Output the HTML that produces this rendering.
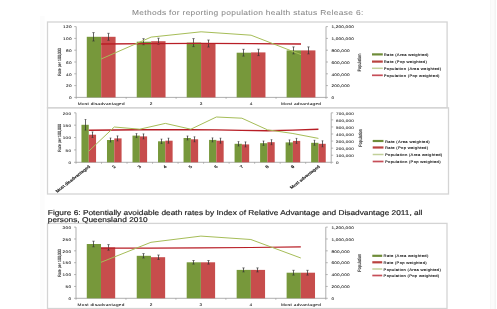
<!DOCTYPE html>
<html><head><meta charset="utf-8"><style>
html,body{margin:0;padding:0;background:#fff;width:497px;height:309px;overflow:hidden}
svg{display:block}
#w{will-change:transform;width:497px;height:309px}
text{font-family:"Liberation Sans",sans-serif;text-rendering:geometricPrecision}
</style></head><body>
<div id="w"><svg width="497" height="309" viewBox="0 0 497 309">
<rect x="0" y="0" width="497" height="309" fill="#fff"/>
<rect x="490.00" y="0.00" width="5.00" height="309.00" fill="#fbfbfb" />
<line x1="490.60" y1="0.00" x2="490.60" y2="309.00" stroke="#f5f5f5" stroke-width="0.8" />
<line x1="495.20" y1="0.00" x2="495.20" y2="309.00" stroke="#f0f0f0" stroke-width="1.2" />
<rect x="40.00" y="16.00" width="4.60" height="293.00" fill="#fcfcfc" />
<text transform="translate(132.00,15.20) scale(1,0.85)" font-size="8.4" text-anchor="start" fill="#888888" font-weight="normal" stroke="#888888" stroke-width="0.06" letter-spacing="0.33">Methods for reporting population health status Release 6:</text>
<rect x="47.5" y="22" width="399.6" height="85.8" fill="none" stroke="#d4d4d4" stroke-width="1.3"/>
<line x1="76.20" y1="26.60" x2="76.20" y2="97.40" stroke="#8c8c8c" stroke-width="0.7" />
<line x1="326.00" y1="26.60" x2="326.00" y2="97.40" stroke="#8c8c8c" stroke-width="0.7" />
<line x1="76.20" y1="97.40" x2="326.00" y2="97.40" stroke="#8c8c8c" stroke-width="0.7" />
<line x1="74.20" y1="97.40" x2="76.20" y2="97.40" stroke="#8c8c8c" stroke-width="0.6" />
<text transform="translate(71.78,99.10) scale(1.0,0.8)" font-size="4.7" text-anchor="end" fill="#222" font-weight="normal" stroke="#222" stroke-width="0.08" letter-spacing="0.28">0</text>
<line x1="74.20" y1="85.60" x2="76.20" y2="85.60" stroke="#8c8c8c" stroke-width="0.6" />
<text transform="translate(71.78,87.30) scale(1.0,0.8)" font-size="4.7" text-anchor="end" fill="#222" font-weight="normal" stroke="#222" stroke-width="0.08" letter-spacing="0.28">20</text>
<line x1="74.20" y1="73.80" x2="76.20" y2="73.80" stroke="#8c8c8c" stroke-width="0.6" />
<text transform="translate(71.78,75.50) scale(1.0,0.8)" font-size="4.7" text-anchor="end" fill="#222" font-weight="normal" stroke="#222" stroke-width="0.08" letter-spacing="0.28">40</text>
<line x1="74.20" y1="62.00" x2="76.20" y2="62.00" stroke="#8c8c8c" stroke-width="0.6" />
<text transform="translate(71.78,63.70) scale(1.0,0.8)" font-size="4.7" text-anchor="end" fill="#222" font-weight="normal" stroke="#222" stroke-width="0.08" letter-spacing="0.28">60</text>
<line x1="74.20" y1="50.20" x2="76.20" y2="50.20" stroke="#8c8c8c" stroke-width="0.6" />
<text transform="translate(71.78,51.90) scale(1.0,0.8)" font-size="4.7" text-anchor="end" fill="#222" font-weight="normal" stroke="#222" stroke-width="0.08" letter-spacing="0.28">80</text>
<line x1="74.20" y1="38.40" x2="76.20" y2="38.40" stroke="#8c8c8c" stroke-width="0.6" />
<text transform="translate(71.78,40.10) scale(1.0,0.8)" font-size="4.7" text-anchor="end" fill="#222" font-weight="normal" stroke="#222" stroke-width="0.08" letter-spacing="0.28">100</text>
<line x1="74.20" y1="26.60" x2="76.20" y2="26.60" stroke="#8c8c8c" stroke-width="0.6" />
<text transform="translate(71.78,28.30) scale(1.0,0.8)" font-size="4.7" text-anchor="end" fill="#222" font-weight="normal" stroke="#222" stroke-width="0.08" letter-spacing="0.28">120</text>
<line x1="326.00" y1="97.40" x2="328.00" y2="97.40" stroke="#8c8c8c" stroke-width="0.6" />
<text transform="translate(331.50,99.10) scale(1.0,0.8)" font-size="4.7" text-anchor="start" fill="#222" font-weight="normal" stroke="#222" stroke-width="0.08" letter-spacing="0.18">0</text>
<line x1="326.00" y1="85.60" x2="328.00" y2="85.60" stroke="#8c8c8c" stroke-width="0.6" />
<text transform="translate(331.50,87.30) scale(1.0,0.8)" font-size="4.7" text-anchor="start" fill="#222" font-weight="normal" stroke="#222" stroke-width="0.08" letter-spacing="0.18">200,000</text>
<line x1="326.00" y1="73.80" x2="328.00" y2="73.80" stroke="#8c8c8c" stroke-width="0.6" />
<text transform="translate(331.50,75.50) scale(1.0,0.8)" font-size="4.7" text-anchor="start" fill="#222" font-weight="normal" stroke="#222" stroke-width="0.08" letter-spacing="0.18">400,000</text>
<line x1="326.00" y1="62.00" x2="328.00" y2="62.00" stroke="#8c8c8c" stroke-width="0.6" />
<text transform="translate(331.50,63.70) scale(1.0,0.8)" font-size="4.7" text-anchor="start" fill="#222" font-weight="normal" stroke="#222" stroke-width="0.08" letter-spacing="0.18">600,000</text>
<line x1="326.00" y1="50.20" x2="328.00" y2="50.20" stroke="#8c8c8c" stroke-width="0.6" />
<text transform="translate(331.50,51.90) scale(1.0,0.8)" font-size="4.7" text-anchor="start" fill="#222" font-weight="normal" stroke="#222" stroke-width="0.08" letter-spacing="0.18">800,000</text>
<line x1="326.00" y1="38.40" x2="328.00" y2="38.40" stroke="#8c8c8c" stroke-width="0.6" />
<text transform="translate(331.50,40.10) scale(1.0,0.8)" font-size="4.7" text-anchor="start" fill="#222" font-weight="normal" stroke="#222" stroke-width="0.08" letter-spacing="0.18">1,000,000</text>
<line x1="326.00" y1="26.60" x2="328.00" y2="26.60" stroke="#8c8c8c" stroke-width="0.6" />
<text transform="translate(331.50,28.30) scale(1.0,0.8)" font-size="4.7" text-anchor="start" fill="#222" font-weight="normal" stroke="#222" stroke-width="0.08" letter-spacing="0.18">1,200,000</text>
<line x1="76.20" y1="97.40" x2="76.20" y2="98.90" stroke="#8c8c8c" stroke-width="0.6" />
<line x1="126.16" y1="97.40" x2="126.16" y2="98.90" stroke="#8c8c8c" stroke-width="0.6" />
<line x1="176.12" y1="97.40" x2="176.12" y2="98.90" stroke="#8c8c8c" stroke-width="0.6" />
<line x1="226.08" y1="97.40" x2="226.08" y2="98.90" stroke="#8c8c8c" stroke-width="0.6" />
<line x1="276.04" y1="97.40" x2="276.04" y2="98.90" stroke="#8c8c8c" stroke-width="0.6" />
<line x1="326.00" y1="97.40" x2="326.00" y2="98.90" stroke="#8c8c8c" stroke-width="0.6" />
<rect x="86.78" y="36.80" width="14.40" height="60.60" fill="#77983b" />
<rect x="101.18" y="36.80" width="14.40" height="60.60" fill="#c74d4c" />
<line x1="93.50" y1="32.60" x2="93.50" y2="41.00" stroke="#333" stroke-width="0.75" />
<line x1="92.30" y1="32.60" x2="94.70" y2="32.60" stroke="#333" stroke-width="0.6" />
<line x1="92.30" y1="41.00" x2="94.70" y2="41.00" stroke="#333" stroke-width="0.6" />
<line x1="108.50" y1="33.30" x2="108.50" y2="40.30" stroke="#333" stroke-width="0.75" />
<line x1="107.30" y1="33.30" x2="109.70" y2="33.30" stroke="#333" stroke-width="0.6" />
<line x1="107.30" y1="40.30" x2="109.70" y2="40.30" stroke="#333" stroke-width="0.6" />
<rect x="136.74" y="41.70" width="14.40" height="55.70" fill="#77983b" />
<rect x="151.14" y="41.20" width="14.40" height="56.20" fill="#c74d4c" />
<line x1="143.50" y1="38.70" x2="143.50" y2="44.70" stroke="#333" stroke-width="0.75" />
<line x1="142.30" y1="38.70" x2="144.70" y2="38.70" stroke="#333" stroke-width="0.6" />
<line x1="142.30" y1="44.70" x2="144.70" y2="44.70" stroke="#333" stroke-width="0.6" />
<line x1="158.50" y1="38.20" x2="158.50" y2="44.20" stroke="#333" stroke-width="0.75" />
<line x1="157.30" y1="38.20" x2="159.70" y2="38.20" stroke="#333" stroke-width="0.6" />
<line x1="157.30" y1="44.20" x2="159.70" y2="44.20" stroke="#333" stroke-width="0.6" />
<rect x="186.70" y="42.60" width="14.40" height="54.80" fill="#77983b" />
<rect x="201.10" y="43.50" width="14.40" height="53.90" fill="#c74d4c" />
<line x1="193.50" y1="38.60" x2="193.50" y2="46.60" stroke="#333" stroke-width="0.75" />
<line x1="192.30" y1="38.60" x2="194.70" y2="38.60" stroke="#333" stroke-width="0.6" />
<line x1="192.30" y1="46.60" x2="194.70" y2="46.60" stroke="#333" stroke-width="0.6" />
<line x1="208.50" y1="40.00" x2="208.50" y2="47.00" stroke="#333" stroke-width="0.75" />
<line x1="207.30" y1="40.00" x2="209.70" y2="40.00" stroke="#333" stroke-width="0.6" />
<line x1="207.30" y1="47.00" x2="209.70" y2="47.00" stroke="#333" stroke-width="0.6" />
<rect x="236.66" y="52.70" width="14.40" height="44.70" fill="#77983b" />
<rect x="251.06" y="52.40" width="14.40" height="45.00" fill="#c74d4c" />
<line x1="243.50" y1="49.30" x2="243.50" y2="56.10" stroke="#333" stroke-width="0.75" />
<line x1="242.30" y1="49.30" x2="244.70" y2="49.30" stroke="#333" stroke-width="0.6" />
<line x1="242.30" y1="56.10" x2="244.70" y2="56.10" stroke="#333" stroke-width="0.6" />
<line x1="258.50" y1="49.20" x2="258.50" y2="55.60" stroke="#333" stroke-width="0.75" />
<line x1="257.30" y1="49.20" x2="259.70" y2="49.20" stroke="#333" stroke-width="0.6" />
<line x1="257.30" y1="55.60" x2="259.70" y2="55.60" stroke="#333" stroke-width="0.6" />
<rect x="286.62" y="50.40" width="14.40" height="47.00" fill="#77983b" />
<rect x="301.02" y="50.40" width="14.40" height="47.00" fill="#c74d4c" />
<line x1="293.50" y1="46.90" x2="293.50" y2="53.90" stroke="#333" stroke-width="0.75" />
<line x1="292.30" y1="46.90" x2="294.70" y2="46.90" stroke="#333" stroke-width="0.6" />
<line x1="292.30" y1="53.90" x2="294.70" y2="53.90" stroke="#333" stroke-width="0.6" />
<line x1="308.50" y1="46.90" x2="308.50" y2="53.90" stroke="#333" stroke-width="0.75" />
<line x1="307.30" y1="46.90" x2="309.70" y2="46.90" stroke="#333" stroke-width="0.6" />
<line x1="307.30" y1="53.90" x2="309.70" y2="53.90" stroke="#333" stroke-width="0.6" />
<polyline points="101.18,44.00 151.14,43.60 201.10,43.40 251.06,43.60 301.02,44.00" fill="none" stroke="#b81e26" stroke-width="1.45" stroke-linejoin="round"/>
<polyline points="101.18,59.00 151.14,37.10 201.10,31.80 251.06,35.20 301.02,54.60" fill="none" stroke="#a6bd58" stroke-width="1.0" stroke-linejoin="round"/>
<g transform="translate(59.20,62.00) scale(1,0.78) rotate(-90)"><text x="0" y="0" font-size="4.6" text-anchor="middle" fill="#2a2a2a" stroke="#2a2a2a" stroke-width="0.1" dominant-baseline="central">Rate per 100,000</text></g>
<g transform="translate(360.30,62.60) scale(1,0.78) rotate(-90)"><text x="0" y="0" font-size="4.8" text-anchor="middle" fill="#222" stroke="#222" stroke-width="0.12" dominant-baseline="central">Population</text></g>
<text transform="translate(101.32,104.80) scale(1.0,0.8)" font-size="4.7" text-anchor="middle" fill="#222" font-weight="normal" stroke="#222" stroke-width="0.08" letter-spacing="0.28">Most disadvantaged</text>
<text transform="translate(151.28,104.80) scale(1.0,0.8)" font-size="4.7" text-anchor="middle" fill="#222" font-weight="normal" stroke="#222" stroke-width="0.08" letter-spacing="0.28">2</text>
<text transform="translate(201.24,104.80) scale(1.0,0.8)" font-size="4.7" text-anchor="middle" fill="#222" font-weight="normal" stroke="#222" stroke-width="0.08" letter-spacing="0.28">3</text>
<text transform="translate(251.20,104.80) scale(1.0,0.8)" font-size="4.7" text-anchor="middle" fill="#222" font-weight="normal" stroke="#222" stroke-width="0.08" letter-spacing="0.28">4</text>
<text transform="translate(301.16,104.80) scale(1.0,0.8)" font-size="4.7" text-anchor="middle" fill="#222" font-weight="normal" stroke="#222" stroke-width="0.08" letter-spacing="0.28">Most advantaged</text>
<line x1="372.00" y1="54.40" x2="382.80" y2="54.40" stroke="#6e8c38" stroke-width="2.2" />
<text transform="translate(383.80,55.90) scale(1.0,0.85)" font-size="4.2" text-anchor="start" fill="#222" font-weight="normal" stroke="#222" stroke-width="0.14" letter-spacing="0.27">Rate (Area weighted)</text>
<line x1="372.00" y1="61.60" x2="382.80" y2="61.60" stroke="#b9423f" stroke-width="2.2" />
<text transform="translate(383.80,63.10) scale(1.0,0.85)" font-size="4.2" text-anchor="start" fill="#222" font-weight="normal" stroke="#222" stroke-width="0.14" letter-spacing="0.27">Rate (Pop weighted)</text>
<line x1="372.00" y1="68.30" x2="382.80" y2="68.30" stroke="#c2d09a" stroke-width="1.5" />
<text transform="translate(383.80,69.80) scale(1.0,0.85)" font-size="4.2" text-anchor="start" fill="#222" font-weight="normal" stroke="#222" stroke-width="0.14" letter-spacing="0.27">Population (Area weighted)</text>
<line x1="372.00" y1="75.30" x2="382.80" y2="75.30" stroke="#c64e58" stroke-width="1.7" />
<text transform="translate(383.80,76.80) scale(1.0,0.85)" font-size="4.2" text-anchor="start" fill="#222" font-weight="normal" stroke="#222" stroke-width="0.14" letter-spacing="0.27">Population (Pop weighted)</text>
<rect x="47.5" y="107.8" width="401.0" height="86.2" fill="none" stroke="#d4d4d4" stroke-width="1.3"/>
<line x1="76.00" y1="112.80" x2="76.00" y2="162.30" stroke="#8c8c8c" stroke-width="0.7" />
<line x1="331.20" y1="112.80" x2="331.20" y2="162.30" stroke="#8c8c8c" stroke-width="0.7" />
<line x1="76.00" y1="162.30" x2="331.20" y2="162.30" stroke="#8c8c8c" stroke-width="0.7" />
<line x1="74.00" y1="162.30" x2="76.00" y2="162.30" stroke="#8c8c8c" stroke-width="0.6" />
<text transform="translate(71.28,164.00) scale(1.0,0.8)" font-size="4.6" text-anchor="end" fill="#222" font-weight="normal" stroke="#222" stroke-width="0.08" letter-spacing="0.28">0</text>
<line x1="74.00" y1="149.93" x2="76.00" y2="149.93" stroke="#8c8c8c" stroke-width="0.6" />
<text transform="translate(71.28,151.62) scale(1.0,0.8)" font-size="4.6" text-anchor="end" fill="#222" font-weight="normal" stroke="#222" stroke-width="0.08" letter-spacing="0.28">50</text>
<line x1="74.00" y1="137.55" x2="76.00" y2="137.55" stroke="#8c8c8c" stroke-width="0.6" />
<text transform="translate(71.28,139.25) scale(1.0,0.8)" font-size="4.6" text-anchor="end" fill="#222" font-weight="normal" stroke="#222" stroke-width="0.08" letter-spacing="0.28">100</text>
<line x1="74.00" y1="125.17" x2="76.00" y2="125.17" stroke="#8c8c8c" stroke-width="0.6" />
<text transform="translate(71.28,126.88) scale(1.0,0.8)" font-size="4.6" text-anchor="end" fill="#222" font-weight="normal" stroke="#222" stroke-width="0.08" letter-spacing="0.28">150</text>
<line x1="74.00" y1="112.80" x2="76.00" y2="112.80" stroke="#8c8c8c" stroke-width="0.6" />
<text transform="translate(71.28,114.50) scale(1.0,0.8)" font-size="4.6" text-anchor="end" fill="#222" font-weight="normal" stroke="#222" stroke-width="0.08" letter-spacing="0.28">200</text>
<line x1="331.20" y1="162.30" x2="333.20" y2="162.30" stroke="#8c8c8c" stroke-width="0.6" />
<text transform="translate(336.00,164.00) scale(1.0,0.8)" font-size="4.6" text-anchor="start" fill="#222" font-weight="normal" stroke="#222" stroke-width="0.08" letter-spacing="0.18">0</text>
<line x1="331.20" y1="155.23" x2="333.20" y2="155.23" stroke="#8c8c8c" stroke-width="0.6" />
<text transform="translate(336.00,156.93) scale(1.0,0.8)" font-size="4.6" text-anchor="start" fill="#222" font-weight="normal" stroke="#222" stroke-width="0.08" letter-spacing="0.18">100,000</text>
<line x1="331.20" y1="148.16" x2="333.20" y2="148.16" stroke="#8c8c8c" stroke-width="0.6" />
<text transform="translate(336.00,149.86) scale(1.0,0.8)" font-size="4.6" text-anchor="start" fill="#222" font-weight="normal" stroke="#222" stroke-width="0.08" letter-spacing="0.18">200,000</text>
<line x1="331.20" y1="141.09" x2="333.20" y2="141.09" stroke="#8c8c8c" stroke-width="0.6" />
<text transform="translate(336.00,142.79) scale(1.0,0.8)" font-size="4.6" text-anchor="start" fill="#222" font-weight="normal" stroke="#222" stroke-width="0.08" letter-spacing="0.18">300,000</text>
<line x1="331.20" y1="134.01" x2="333.20" y2="134.01" stroke="#8c8c8c" stroke-width="0.6" />
<text transform="translate(336.00,135.71) scale(1.0,0.8)" font-size="4.6" text-anchor="start" fill="#222" font-weight="normal" stroke="#222" stroke-width="0.08" letter-spacing="0.18">400,000</text>
<line x1="331.20" y1="126.94" x2="333.20" y2="126.94" stroke="#8c8c8c" stroke-width="0.6" />
<text transform="translate(336.00,128.64) scale(1.0,0.8)" font-size="4.6" text-anchor="start" fill="#222" font-weight="normal" stroke="#222" stroke-width="0.08" letter-spacing="0.18">500,000</text>
<line x1="331.20" y1="119.87" x2="333.20" y2="119.87" stroke="#8c8c8c" stroke-width="0.6" />
<text transform="translate(336.00,121.57) scale(1.0,0.8)" font-size="4.6" text-anchor="start" fill="#222" font-weight="normal" stroke="#222" stroke-width="0.08" letter-spacing="0.18">600,000</text>
<line x1="331.20" y1="112.80" x2="333.20" y2="112.80" stroke="#8c8c8c" stroke-width="0.6" />
<text transform="translate(336.00,114.50) scale(1.0,0.8)" font-size="4.6" text-anchor="start" fill="#222" font-weight="normal" stroke="#222" stroke-width="0.08" letter-spacing="0.18">700,000</text>
<line x1="76.00" y1="162.30" x2="76.00" y2="163.80" stroke="#8c8c8c" stroke-width="0.6" />
<line x1="101.52" y1="162.30" x2="101.52" y2="163.80" stroke="#8c8c8c" stroke-width="0.6" />
<line x1="127.04" y1="162.30" x2="127.04" y2="163.80" stroke="#8c8c8c" stroke-width="0.6" />
<line x1="152.56" y1="162.30" x2="152.56" y2="163.80" stroke="#8c8c8c" stroke-width="0.6" />
<line x1="178.08" y1="162.30" x2="178.08" y2="163.80" stroke="#8c8c8c" stroke-width="0.6" />
<line x1="203.60" y1="162.30" x2="203.60" y2="163.80" stroke="#8c8c8c" stroke-width="0.6" />
<line x1="229.12" y1="162.30" x2="229.12" y2="163.80" stroke="#8c8c8c" stroke-width="0.6" />
<line x1="254.64" y1="162.30" x2="254.64" y2="163.80" stroke="#8c8c8c" stroke-width="0.6" />
<line x1="280.16" y1="162.30" x2="280.16" y2="163.80" stroke="#8c8c8c" stroke-width="0.6" />
<line x1="305.68" y1="162.30" x2="305.68" y2="163.80" stroke="#8c8c8c" stroke-width="0.6" />
<line x1="331.20" y1="162.30" x2="331.20" y2="163.80" stroke="#8c8c8c" stroke-width="0.6" />
<rect x="81.46" y="124.80" width="7.30" height="37.50" fill="#77983b" />
<rect x="88.76" y="134.70" width="7.30" height="27.60" fill="#c74d4c" />
<line x1="85.50" y1="119.50" x2="85.50" y2="130.10" stroke="#333" stroke-width="0.75" />
<line x1="84.60" y1="119.50" x2="86.40" y2="119.50" stroke="#333" stroke-width="0.6" />
<line x1="84.60" y1="130.10" x2="86.40" y2="130.10" stroke="#333" stroke-width="0.6" />
<line x1="92.50" y1="131.90" x2="92.50" y2="137.50" stroke="#333" stroke-width="0.75" />
<line x1="91.60" y1="131.90" x2="93.40" y2="131.90" stroke="#333" stroke-width="0.6" />
<line x1="91.60" y1="137.50" x2="93.40" y2="137.50" stroke="#333" stroke-width="0.6" />
<rect x="106.98" y="140.00" width="7.30" height="22.30" fill="#77983b" />
<rect x="114.28" y="138.40" width="7.30" height="23.90" fill="#c74d4c" />
<line x1="110.50" y1="138.00" x2="110.50" y2="142.00" stroke="#333" stroke-width="0.75" />
<line x1="109.60" y1="138.00" x2="111.40" y2="138.00" stroke="#333" stroke-width="0.6" />
<line x1="109.60" y1="142.00" x2="111.40" y2="142.00" stroke="#333" stroke-width="0.6" />
<line x1="117.50" y1="135.90" x2="117.50" y2="140.90" stroke="#333" stroke-width="0.75" />
<line x1="116.60" y1="135.90" x2="118.40" y2="135.90" stroke="#333" stroke-width="0.6" />
<line x1="116.60" y1="140.90" x2="118.40" y2="140.90" stroke="#333" stroke-width="0.6" />
<rect x="132.50" y="135.60" width="7.30" height="26.70" fill="#77983b" />
<rect x="139.80" y="136.40" width="7.30" height="25.90" fill="#c74d4c" />
<line x1="136.50" y1="133.60" x2="136.50" y2="137.60" stroke="#333" stroke-width="0.75" />
<line x1="135.60" y1="133.60" x2="137.40" y2="133.60" stroke="#333" stroke-width="0.6" />
<line x1="135.60" y1="137.60" x2="137.40" y2="137.60" stroke="#333" stroke-width="0.6" />
<line x1="143.50" y1="133.90" x2="143.50" y2="138.90" stroke="#333" stroke-width="0.75" />
<line x1="142.60" y1="133.90" x2="144.40" y2="133.90" stroke="#333" stroke-width="0.6" />
<line x1="142.60" y1="138.90" x2="144.40" y2="138.90" stroke="#333" stroke-width="0.6" />
<rect x="158.02" y="141.30" width="7.30" height="21.00" fill="#77983b" />
<rect x="165.32" y="140.70" width="7.30" height="21.60" fill="#c74d4c" />
<line x1="161.50" y1="139.10" x2="161.50" y2="143.50" stroke="#333" stroke-width="0.75" />
<line x1="160.60" y1="139.10" x2="162.40" y2="139.10" stroke="#333" stroke-width="0.6" />
<line x1="160.60" y1="143.50" x2="162.40" y2="143.50" stroke="#333" stroke-width="0.6" />
<line x1="168.50" y1="138.20" x2="168.50" y2="143.20" stroke="#333" stroke-width="0.75" />
<line x1="167.60" y1="138.20" x2="169.40" y2="138.20" stroke="#333" stroke-width="0.6" />
<line x1="167.60" y1="143.20" x2="169.40" y2="143.20" stroke="#333" stroke-width="0.6" />
<rect x="183.54" y="138.00" width="7.30" height="24.30" fill="#77983b" />
<rect x="190.84" y="139.30" width="7.30" height="23.00" fill="#c74d4c" />
<line x1="187.50" y1="136.00" x2="187.50" y2="140.00" stroke="#333" stroke-width="0.75" />
<line x1="186.60" y1="136.00" x2="188.40" y2="136.00" stroke="#333" stroke-width="0.6" />
<line x1="186.60" y1="140.00" x2="188.40" y2="140.00" stroke="#333" stroke-width="0.6" />
<line x1="194.50" y1="136.80" x2="194.50" y2="141.80" stroke="#333" stroke-width="0.75" />
<line x1="193.60" y1="136.80" x2="195.40" y2="136.80" stroke="#333" stroke-width="0.6" />
<line x1="193.60" y1="141.80" x2="195.40" y2="141.80" stroke="#333" stroke-width="0.6" />
<rect x="209.06" y="139.90" width="7.30" height="22.40" fill="#77983b" />
<rect x="216.36" y="140.70" width="7.30" height="21.60" fill="#c74d4c" />
<line x1="212.50" y1="137.90" x2="212.50" y2="141.90" stroke="#333" stroke-width="0.75" />
<line x1="211.60" y1="137.90" x2="213.40" y2="137.90" stroke="#333" stroke-width="0.6" />
<line x1="211.60" y1="141.90" x2="213.40" y2="141.90" stroke="#333" stroke-width="0.6" />
<line x1="220.50" y1="138.20" x2="220.50" y2="143.20" stroke="#333" stroke-width="0.75" />
<line x1="219.60" y1="138.20" x2="221.40" y2="138.20" stroke="#333" stroke-width="0.6" />
<line x1="219.60" y1="143.20" x2="221.40" y2="143.20" stroke="#333" stroke-width="0.6" />
<rect x="234.58" y="143.80" width="7.30" height="18.50" fill="#77983b" />
<rect x="241.88" y="144.40" width="7.30" height="17.90" fill="#c74d4c" />
<line x1="238.50" y1="141.60" x2="238.50" y2="146.00" stroke="#333" stroke-width="0.75" />
<line x1="237.60" y1="141.60" x2="239.40" y2="141.60" stroke="#333" stroke-width="0.6" />
<line x1="237.60" y1="146.00" x2="239.40" y2="146.00" stroke="#333" stroke-width="0.6" />
<line x1="245.50" y1="141.90" x2="245.50" y2="146.90" stroke="#333" stroke-width="0.75" />
<line x1="244.60" y1="141.90" x2="246.40" y2="141.90" stroke="#333" stroke-width="0.6" />
<line x1="244.60" y1="146.90" x2="246.40" y2="146.90" stroke="#333" stroke-width="0.6" />
<rect x="260.10" y="143.20" width="7.30" height="19.10" fill="#77983b" />
<rect x="267.40" y="142.20" width="7.30" height="20.10" fill="#c74d4c" />
<line x1="263.50" y1="141.00" x2="263.50" y2="145.40" stroke="#333" stroke-width="0.75" />
<line x1="262.60" y1="141.00" x2="264.40" y2="141.00" stroke="#333" stroke-width="0.6" />
<line x1="262.60" y1="145.40" x2="264.40" y2="145.40" stroke="#333" stroke-width="0.6" />
<line x1="271.50" y1="139.70" x2="271.50" y2="144.70" stroke="#333" stroke-width="0.75" />
<line x1="270.60" y1="139.70" x2="272.40" y2="139.70" stroke="#333" stroke-width="0.6" />
<line x1="270.60" y1="144.70" x2="272.40" y2="144.70" stroke="#333" stroke-width="0.6" />
<rect x="285.62" y="142.40" width="7.30" height="19.90" fill="#77983b" />
<rect x="292.92" y="140.90" width="7.30" height="21.40" fill="#c74d4c" />
<line x1="289.50" y1="139.90" x2="289.50" y2="144.90" stroke="#333" stroke-width="0.75" />
<line x1="288.60" y1="139.90" x2="290.40" y2="139.90" stroke="#333" stroke-width="0.6" />
<line x1="288.60" y1="144.90" x2="290.40" y2="144.90" stroke="#333" stroke-width="0.6" />
<line x1="296.50" y1="138.40" x2="296.50" y2="143.40" stroke="#333" stroke-width="0.75" />
<line x1="295.60" y1="138.40" x2="297.40" y2="138.40" stroke="#333" stroke-width="0.6" />
<line x1="295.60" y1="143.40" x2="297.40" y2="143.40" stroke="#333" stroke-width="0.6" />
<rect x="311.14" y="142.80" width="7.30" height="19.50" fill="#77983b" />
<rect x="318.44" y="143.80" width="7.30" height="18.50" fill="#c74d4c" />
<line x1="314.50" y1="140.30" x2="314.50" y2="145.30" stroke="#333" stroke-width="0.75" />
<line x1="313.60" y1="140.30" x2="315.40" y2="140.30" stroke="#333" stroke-width="0.6" />
<line x1="313.60" y1="145.30" x2="315.40" y2="145.30" stroke="#333" stroke-width="0.6" />
<line x1="322.50" y1="140.80" x2="322.50" y2="146.80" stroke="#333" stroke-width="0.75" />
<line x1="321.60" y1="140.80" x2="323.40" y2="140.80" stroke="#333" stroke-width="0.6" />
<line x1="321.60" y1="146.80" x2="323.40" y2="146.80" stroke="#333" stroke-width="0.6" />
<polyline points="88.76,130.20 114.28,130.00 139.80,129.80 165.32,129.70 190.84,129.70 216.36,129.90 241.88,130.40 267.40,130.80 292.92,130.10 318.44,129.20" fill="none" stroke="#b81e26" stroke-width="1.4" stroke-linejoin="round"/>
<polyline points="88.76,151.20 114.28,127.00 139.80,129.20 165.32,123.40 190.84,129.20 216.36,117.00 241.88,118.20 267.40,129.80 292.92,133.50 318.44,138.40" fill="none" stroke="#a6bd58" stroke-width="1.0" stroke-linejoin="round"/>
<g transform="translate(59.00,137.80) scale(1,0.78) rotate(-90)"><text x="0" y="0" font-size="4.6" text-anchor="middle" fill="#2a2a2a" stroke="#2a2a2a" stroke-width="0.1" dominant-baseline="central">Rate per 100,000</text></g>
<g transform="translate(361.40,137.90) scale(1,0.78) rotate(-90)"><text x="0" y="0" font-size="4.8" text-anchor="middle" fill="#222" stroke="#222" stroke-width="0.12" dominant-baseline="central">Population</text></g>
<g transform="translate(89.46,166.00) scale(1,0.78) rotate(-45) scale(1.14,1.05)"><text x="0" y="0" font-size="4.6" text-anchor="end" fill="#222" stroke="#222" stroke-width="0.2" dominant-baseline="central">Most disadvantaged</text></g>
<g transform="translate(114.98,166.00) scale(1,0.78) rotate(-45) scale(1.14,1.05)"><text x="0" y="0" font-size="4.6" text-anchor="end" fill="#222" stroke="#222" stroke-width="0.2" dominant-baseline="central">2</text></g>
<g transform="translate(140.50,166.00) scale(1,0.78) rotate(-45) scale(1.14,1.05)"><text x="0" y="0" font-size="4.6" text-anchor="end" fill="#222" stroke="#222" stroke-width="0.2" dominant-baseline="central">3</text></g>
<g transform="translate(166.02,166.00) scale(1,0.78) rotate(-45) scale(1.14,1.05)"><text x="0" y="0" font-size="4.6" text-anchor="end" fill="#222" stroke="#222" stroke-width="0.2" dominant-baseline="central">4</text></g>
<g transform="translate(191.54,166.00) scale(1,0.78) rotate(-45) scale(1.14,1.05)"><text x="0" y="0" font-size="4.6" text-anchor="end" fill="#222" stroke="#222" stroke-width="0.2" dominant-baseline="central">5</text></g>
<g transform="translate(217.06,166.00) scale(1,0.78) rotate(-45) scale(1.14,1.05)"><text x="0" y="0" font-size="4.6" text-anchor="end" fill="#222" stroke="#222" stroke-width="0.2" dominant-baseline="central">6</text></g>
<g transform="translate(242.58,166.00) scale(1,0.78) rotate(-45) scale(1.14,1.05)"><text x="0" y="0" font-size="4.6" text-anchor="end" fill="#222" stroke="#222" stroke-width="0.2" dominant-baseline="central">7</text></g>
<g transform="translate(268.10,166.00) scale(1,0.78) rotate(-45) scale(1.14,1.05)"><text x="0" y="0" font-size="4.6" text-anchor="end" fill="#222" stroke="#222" stroke-width="0.2" dominant-baseline="central">8</text></g>
<g transform="translate(293.62,166.00) scale(1,0.78) rotate(-45) scale(1.14,1.05)"><text x="0" y="0" font-size="4.6" text-anchor="end" fill="#222" stroke="#222" stroke-width="0.2" dominant-baseline="central">9</text></g>
<g transform="translate(319.14,166.00) scale(1,0.78) rotate(-45) scale(1.14,1.05)"><text x="0" y="0" font-size="4.6" text-anchor="end" fill="#222" stroke="#222" stroke-width="0.2" dominant-baseline="central">Most advantaged</text></g>
<line x1="372.70" y1="141.00" x2="383.50" y2="141.00" stroke="#6e8c38" stroke-width="2.2" />
<text transform="translate(385.00,142.50) scale(1.0,0.85)" font-size="4.2" text-anchor="start" fill="#222" font-weight="normal" stroke="#222" stroke-width="0.14" letter-spacing="0.27">Rate (Area weighted)</text>
<line x1="372.70" y1="147.50" x2="383.50" y2="147.50" stroke="#b9423f" stroke-width="2.2" />
<text transform="translate(385.00,149.00) scale(1.0,0.85)" font-size="4.2" text-anchor="start" fill="#222" font-weight="normal" stroke="#222" stroke-width="0.14" letter-spacing="0.27">Rate (Pop weighted)</text>
<line x1="372.70" y1="154.50" x2="383.50" y2="154.50" stroke="#c2d09a" stroke-width="1.5" />
<text transform="translate(385.00,156.00) scale(1.0,0.85)" font-size="4.2" text-anchor="start" fill="#222" font-weight="normal" stroke="#222" stroke-width="0.14" letter-spacing="0.27">Population (Area weighted)</text>
<line x1="372.70" y1="161.50" x2="383.50" y2="161.50" stroke="#c64e58" stroke-width="1.7" />
<text transform="translate(385.00,163.00) scale(1.0,0.85)" font-size="4.2" text-anchor="start" fill="#222" font-weight="normal" stroke="#222" stroke-width="0.14" letter-spacing="0.27">Population (Pop weighted)</text>
<rect x="47.5" y="223.4" width="399.5" height="85.1" fill="none" stroke="#d4d4d4" stroke-width="1.3"/>
<line x1="76.00" y1="227.10" x2="76.00" y2="298.30" stroke="#8c8c8c" stroke-width="0.7" />
<line x1="325.80" y1="227.10" x2="325.80" y2="298.30" stroke="#8c8c8c" stroke-width="0.7" />
<line x1="76.00" y1="298.30" x2="325.80" y2="298.30" stroke="#8c8c8c" stroke-width="0.7" />
<line x1="74.00" y1="298.30" x2="76.00" y2="298.30" stroke="#8c8c8c" stroke-width="0.6" />
<text transform="translate(71.28,300.00) scale(1.0,0.8)" font-size="4.7" text-anchor="end" fill="#222" font-weight="normal" stroke="#222" stroke-width="0.08" letter-spacing="0.28">0</text>
<line x1="74.00" y1="286.43" x2="76.00" y2="286.43" stroke="#8c8c8c" stroke-width="0.6" />
<text transform="translate(71.28,288.13) scale(1.0,0.8)" font-size="4.7" text-anchor="end" fill="#222" font-weight="normal" stroke="#222" stroke-width="0.08" letter-spacing="0.28">50</text>
<line x1="74.00" y1="274.57" x2="76.00" y2="274.57" stroke="#8c8c8c" stroke-width="0.6" />
<text transform="translate(71.28,276.27) scale(1.0,0.8)" font-size="4.7" text-anchor="end" fill="#222" font-weight="normal" stroke="#222" stroke-width="0.08" letter-spacing="0.28">100</text>
<line x1="74.00" y1="262.70" x2="76.00" y2="262.70" stroke="#8c8c8c" stroke-width="0.6" />
<text transform="translate(71.28,264.40) scale(1.0,0.8)" font-size="4.7" text-anchor="end" fill="#222" font-weight="normal" stroke="#222" stroke-width="0.08" letter-spacing="0.28">150</text>
<line x1="74.00" y1="250.83" x2="76.00" y2="250.83" stroke="#8c8c8c" stroke-width="0.6" />
<text transform="translate(71.28,252.53) scale(1.0,0.8)" font-size="4.7" text-anchor="end" fill="#222" font-weight="normal" stroke="#222" stroke-width="0.08" letter-spacing="0.28">200</text>
<line x1="74.00" y1="238.97" x2="76.00" y2="238.97" stroke="#8c8c8c" stroke-width="0.6" />
<text transform="translate(71.28,240.67) scale(1.0,0.8)" font-size="4.7" text-anchor="end" fill="#222" font-weight="normal" stroke="#222" stroke-width="0.08" letter-spacing="0.28">250</text>
<line x1="74.00" y1="227.10" x2="76.00" y2="227.10" stroke="#8c8c8c" stroke-width="0.6" />
<text transform="translate(71.28,228.80) scale(1.0,0.8)" font-size="4.7" text-anchor="end" fill="#222" font-weight="normal" stroke="#222" stroke-width="0.08" letter-spacing="0.28">300</text>
<line x1="325.80" y1="298.30" x2="327.80" y2="298.30" stroke="#8c8c8c" stroke-width="0.6" />
<text transform="translate(331.50,300.00) scale(1.0,0.8)" font-size="4.7" text-anchor="start" fill="#222" font-weight="normal" stroke="#222" stroke-width="0.08" letter-spacing="0.18">0</text>
<line x1="325.80" y1="286.43" x2="327.80" y2="286.43" stroke="#8c8c8c" stroke-width="0.6" />
<text transform="translate(331.50,288.13) scale(1.0,0.8)" font-size="4.7" text-anchor="start" fill="#222" font-weight="normal" stroke="#222" stroke-width="0.08" letter-spacing="0.18">200,000</text>
<line x1="325.80" y1="274.57" x2="327.80" y2="274.57" stroke="#8c8c8c" stroke-width="0.6" />
<text transform="translate(331.50,276.27) scale(1.0,0.8)" font-size="4.7" text-anchor="start" fill="#222" font-weight="normal" stroke="#222" stroke-width="0.08" letter-spacing="0.18">400,000</text>
<line x1="325.80" y1="262.70" x2="327.80" y2="262.70" stroke="#8c8c8c" stroke-width="0.6" />
<text transform="translate(331.50,264.40) scale(1.0,0.8)" font-size="4.7" text-anchor="start" fill="#222" font-weight="normal" stroke="#222" stroke-width="0.08" letter-spacing="0.18">600,000</text>
<line x1="325.80" y1="250.83" x2="327.80" y2="250.83" stroke="#8c8c8c" stroke-width="0.6" />
<text transform="translate(331.50,252.53) scale(1.0,0.8)" font-size="4.7" text-anchor="start" fill="#222" font-weight="normal" stroke="#222" stroke-width="0.08" letter-spacing="0.18">800,000</text>
<line x1="325.80" y1="238.97" x2="327.80" y2="238.97" stroke="#8c8c8c" stroke-width="0.6" />
<text transform="translate(331.50,240.67) scale(1.0,0.8)" font-size="4.7" text-anchor="start" fill="#222" font-weight="normal" stroke="#222" stroke-width="0.08" letter-spacing="0.18">1,000,000</text>
<line x1="325.80" y1="227.10" x2="327.80" y2="227.10" stroke="#8c8c8c" stroke-width="0.6" />
<text transform="translate(331.50,228.80) scale(1.0,0.8)" font-size="4.7" text-anchor="start" fill="#222" font-weight="normal" stroke="#222" stroke-width="0.08" letter-spacing="0.18">1,200,000</text>
<line x1="76.00" y1="298.30" x2="76.00" y2="299.80" stroke="#8c8c8c" stroke-width="0.6" />
<line x1="125.96" y1="298.30" x2="125.96" y2="299.80" stroke="#8c8c8c" stroke-width="0.6" />
<line x1="175.92" y1="298.30" x2="175.92" y2="299.80" stroke="#8c8c8c" stroke-width="0.6" />
<line x1="225.88" y1="298.30" x2="225.88" y2="299.80" stroke="#8c8c8c" stroke-width="0.6" />
<line x1="275.84" y1="298.30" x2="275.84" y2="299.80" stroke="#8c8c8c" stroke-width="0.6" />
<line x1="325.80" y1="298.30" x2="325.80" y2="299.80" stroke="#8c8c8c" stroke-width="0.6" />
<rect x="86.78" y="244.00" width="14.20" height="54.30" fill="#77983b" />
<rect x="100.98" y="247.40" width="14.20" height="50.90" fill="#c74d4c" />
<line x1="93.50" y1="241.20" x2="93.50" y2="246.80" stroke="#333" stroke-width="0.75" />
<line x1="92.30" y1="241.20" x2="94.70" y2="241.20" stroke="#333" stroke-width="0.6" />
<line x1="92.30" y1="246.80" x2="94.70" y2="246.80" stroke="#333" stroke-width="0.6" />
<line x1="108.50" y1="244.60" x2="108.50" y2="250.20" stroke="#333" stroke-width="0.75" />
<line x1="107.30" y1="244.60" x2="109.70" y2="244.60" stroke="#333" stroke-width="0.6" />
<line x1="107.30" y1="250.20" x2="109.70" y2="250.20" stroke="#333" stroke-width="0.6" />
<rect x="136.74" y="255.80" width="14.20" height="42.50" fill="#77983b" />
<rect x="150.94" y="257.20" width="14.20" height="41.10" fill="#c74d4c" />
<line x1="143.50" y1="253.60" x2="143.50" y2="258.00" stroke="#333" stroke-width="0.75" />
<line x1="142.30" y1="253.60" x2="144.70" y2="253.60" stroke="#333" stroke-width="0.6" />
<line x1="142.30" y1="258.00" x2="144.70" y2="258.00" stroke="#333" stroke-width="0.6" />
<line x1="158.50" y1="255.00" x2="158.50" y2="259.40" stroke="#333" stroke-width="0.75" />
<line x1="157.30" y1="255.00" x2="159.70" y2="255.00" stroke="#333" stroke-width="0.6" />
<line x1="157.30" y1="259.40" x2="159.70" y2="259.40" stroke="#333" stroke-width="0.6" />
<rect x="186.70" y="262.30" width="14.20" height="36.00" fill="#77983b" />
<rect x="200.90" y="262.30" width="14.20" height="36.00" fill="#c74d4c" />
<line x1="193.50" y1="260.50" x2="193.50" y2="264.10" stroke="#333" stroke-width="0.75" />
<line x1="192.30" y1="260.50" x2="194.70" y2="260.50" stroke="#333" stroke-width="0.6" />
<line x1="192.30" y1="264.10" x2="194.70" y2="264.10" stroke="#333" stroke-width="0.6" />
<line x1="208.50" y1="260.50" x2="208.50" y2="264.10" stroke="#333" stroke-width="0.75" />
<line x1="207.30" y1="260.50" x2="209.70" y2="260.50" stroke="#333" stroke-width="0.6" />
<line x1="207.30" y1="264.10" x2="209.70" y2="264.10" stroke="#333" stroke-width="0.6" />
<rect x="236.66" y="269.90" width="14.20" height="28.40" fill="#77983b" />
<rect x="250.86" y="269.90" width="14.20" height="28.40" fill="#c74d4c" />
<line x1="243.50" y1="267.90" x2="243.50" y2="271.90" stroke="#333" stroke-width="0.75" />
<line x1="242.30" y1="267.90" x2="244.70" y2="267.90" stroke="#333" stroke-width="0.6" />
<line x1="242.30" y1="271.90" x2="244.70" y2="271.90" stroke="#333" stroke-width="0.6" />
<line x1="257.50" y1="267.90" x2="257.50" y2="271.90" stroke="#333" stroke-width="0.75" />
<line x1="256.30" y1="267.90" x2="258.70" y2="267.90" stroke="#333" stroke-width="0.6" />
<line x1="256.30" y1="271.90" x2="258.70" y2="271.90" stroke="#333" stroke-width="0.6" />
<rect x="286.62" y="272.70" width="14.20" height="25.60" fill="#77983b" />
<rect x="300.82" y="272.70" width="14.20" height="25.60" fill="#c74d4c" />
<line x1="293.50" y1="270.30" x2="293.50" y2="275.10" stroke="#333" stroke-width="0.75" />
<line x1="292.30" y1="270.30" x2="294.70" y2="270.30" stroke="#333" stroke-width="0.6" />
<line x1="292.30" y1="275.10" x2="294.70" y2="275.10" stroke="#333" stroke-width="0.6" />
<line x1="307.50" y1="270.30" x2="307.50" y2="275.10" stroke="#333" stroke-width="0.75" />
<line x1="306.30" y1="270.30" x2="308.70" y2="270.30" stroke="#333" stroke-width="0.6" />
<line x1="306.30" y1="275.10" x2="308.70" y2="275.10" stroke="#333" stroke-width="0.6" />
<polyline points="100.98,248.20 150.94,248.00 200.90,247.80 250.86,247.50 300.82,246.80" fill="none" stroke="#b81e26" stroke-width="1.25" stroke-linejoin="round"/>
<polyline points="100.98,262.30 150.94,242.30 200.90,236.10 250.86,239.50 300.82,258.00" fill="none" stroke="#a6bd58" stroke-width="1.0" stroke-linejoin="round"/>
<g transform="translate(59.60,263.00) scale(1,0.78) rotate(-90)"><text x="0" y="0" font-size="4.6" text-anchor="middle" fill="#2a2a2a" stroke="#2a2a2a" stroke-width="0.1" dominant-baseline="central">Rate per 100,000</text></g>
<g transform="translate(360.40,262.80) scale(1,0.78) rotate(-90)"><text x="0" y="0" font-size="4.8" text-anchor="middle" fill="#222" stroke="#222" stroke-width="0.12" dominant-baseline="central">Population</text></g>
<text transform="translate(101.12,306.00) scale(1.0,0.8)" font-size="4.7" text-anchor="middle" fill="#222" font-weight="normal" stroke="#222" stroke-width="0.08" letter-spacing="0.28">Most disadvantaged</text>
<text transform="translate(151.08,306.00) scale(1.0,0.8)" font-size="4.7" text-anchor="middle" fill="#222" font-weight="normal" stroke="#222" stroke-width="0.08" letter-spacing="0.28">2</text>
<text transform="translate(201.04,306.00) scale(1.0,0.8)" font-size="4.7" text-anchor="middle" fill="#222" font-weight="normal" stroke="#222" stroke-width="0.08" letter-spacing="0.28">3</text>
<text transform="translate(251.00,306.00) scale(1.0,0.8)" font-size="4.7" text-anchor="middle" fill="#222" font-weight="normal" stroke="#222" stroke-width="0.08" letter-spacing="0.28">4</text>
<text transform="translate(300.96,306.00) scale(1.0,0.8)" font-size="4.7" text-anchor="middle" fill="#222" font-weight="normal" stroke="#222" stroke-width="0.08" letter-spacing="0.28">Most advantaged</text>
<line x1="372.30" y1="255.80" x2="382.20" y2="255.80" stroke="#6e8c38" stroke-width="2.2" />
<text transform="translate(383.60,257.30) scale(1.0,0.85)" font-size="4.2" text-anchor="start" fill="#222" font-weight="normal" stroke="#222" stroke-width="0.14" letter-spacing="0.27">Rate (Area weighted)</text>
<line x1="372.30" y1="262.30" x2="382.20" y2="262.30" stroke="#b9423f" stroke-width="2.2" />
<text transform="translate(383.60,263.80) scale(1.0,0.85)" font-size="4.2" text-anchor="start" fill="#222" font-weight="normal" stroke="#222" stroke-width="0.14" letter-spacing="0.27">Rate (Pop weighted)</text>
<line x1="372.30" y1="269.00" x2="382.20" y2="269.00" stroke="#c2d09a" stroke-width="1.5" />
<text transform="translate(383.60,270.50) scale(1.0,0.85)" font-size="4.2" text-anchor="start" fill="#222" font-weight="normal" stroke="#222" stroke-width="0.14" letter-spacing="0.27">Population (Area weighted)</text>
<line x1="372.30" y1="275.50" x2="382.20" y2="275.50" stroke="#c64e58" stroke-width="1.7" />
<text transform="translate(383.60,277.00) scale(1.0,0.85)" font-size="4.2" text-anchor="start" fill="#222" font-weight="normal" stroke="#222" stroke-width="0.14" letter-spacing="0.27">Population (Pop weighted)</text>
<text transform="translate(47.80,215.10) scale(1,0.84)" font-size="8.32" text-anchor="start" fill="#222" font-weight="normal" stroke="#222" stroke-width="0.2" >Figure 6: Potentially avoidable death rates by Index of Relative Advantage and Disadvantage 2011, all</text>
<text transform="translate(47.80,222.10) scale(1,0.84)" font-size="8.32" text-anchor="start" fill="#222" font-weight="normal" stroke="#222" stroke-width="0.2" >persons, Queensland 2010</text>
</svg></div>
</body></html>
